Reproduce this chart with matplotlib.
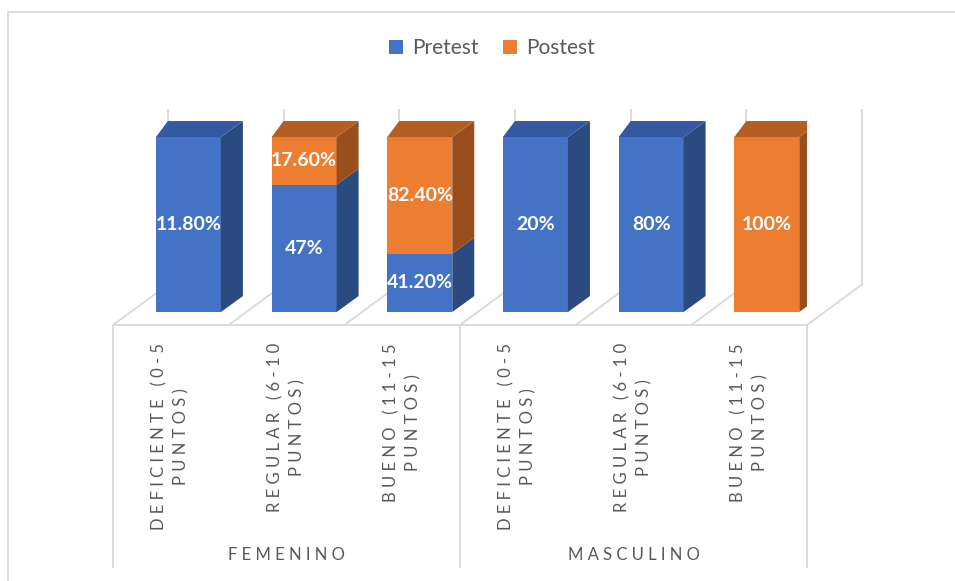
import numpy as np
import matplotlib
matplotlib.use('Agg')
import matplotlib.pyplot as plt
from matplotlib.patches import Rectangle

groups = ['FEMENINO', 'MASCULINO']
levels = ['DEFICIENTE (0-5\nPUNTOS)', 'REGULAR (6-10\nPUNTOS)', 'BUENO (11-15\nPUNTOS)']
pretest = [11.8, 47, 41.2, 20, 80, 0]
postest = [0, 17.6, 82.4, 0, 0, 100]
pre_labels = ['11.80%', '47%', '41.20%', '20%', '80%', '']
post_labels = ['', '17.60%', '82.40%', '', '', '100%']

plt.rcParams['font.family'] = ['Lato', 'DejaVu Sans']

blue, blue_top, blue_side = '#4472C4', '#3459A0', '#2B4A7F'
orange, orange_top, orange_side = '#ED7D31', '#B55E22', '#984E1D'
grid = '#D9D9D9'
txt = '#595959'

# pseudo 3d geometry (pixels -> data units)
px_x = 694 / 6.0
px_y = 1.75
floor_dx, floor_dy = 55 / px_x, 40.5 / px_y
depth0 = 0.32
side_dxr, side_dxl, side_dy = 22 / px_x, 12 / px_x, 16 / px_y
bar_w = 65 / px_x


def spaced(s):
    return '\n'.join('   '.join(' '.join(w) for w in line.split(' ')) for line in s.split('\n'))


pre = np.array(pretest, float)
post = np.array(postest, float)
tot = pre + post
pre_sh = pre / tot * 100
post_sh = post / tot * 100

fig = plt.figure(figsize=(9.55, 5.81), dpi=100)
fig.add_artist(Rectangle((8 / 955, -0.1), 1.2, 1.1 - 12 / 581, transform=fig.transFigure,
                         fill=False, ec=grid, lw=1.3))
ax = fig.add_axes([113 / 955, 1 - 325 / 581, 694 / 955, 125 * px_y / 581])
ax.set_xlim(-0.5, 5.5)
ax.set_ylim(0, 125)
for sp in ax.spines.values():
    sp.set_visible(False)
ax.set_yticks([])

n = len(pretest)
x = np.arange(n)
seps = np.arange(n + 1) - 0.5

# floor and back wall
ax.hlines(0, -0.5, 5.5, color=grid, lw=1.3, clip_on=False, zorder=1)
for s in seps:
    ax.plot([s, s + floor_dx], [0, floor_dy], color=grid, lw=1.3, clip_on=False, zorder=1)
ax.vlines(seps + floor_dx, floor_dy, 100 + floor_dy, color=grid, lw=1.3, clip_on=False, zorder=1)
# category box below
ax.vlines([-0.5, 2.5, 5.5], -139, 0, color=grid, lw=1.3, clip_on=False, zorder=1)

xf = x + depth0 * floor_dx
y0 = depth0 * floor_dy
ax.bar(xf, pre_sh, width=bar_w, bottom=y0, color=blue, label='Pretest', zorder=3)
ax.bar(xf, post_sh, width=bar_w, bottom=y0 + pre_sh, color=orange, label='Postest', zorder=3)

for i in range(n):
    xl, xr = xf[i] - bar_w / 2, xf[i] + bar_w / 2
    segs = [(y0, y0 + pre_sh[i], blue_side, blue_top), (y0 + pre_sh[i], y0 + 100, orange_side, orange_top)]
    for yb, yt, cs, ct in segs:
        if yt - yb <= 0:
            continue
        ax.fill([xr, xr + side_dxr, xr + side_dxr, xr], [yb, yb + side_dy, yt + side_dy, yt],
                color=cs, lw=0, zorder=3)
    top_col = orange_top if post_sh[i] > 0 else blue_top
    yt = y0 + 100
    ax.fill([xl, xr, xr + side_dxr, xl + side_dxl], [yt, yt, yt + side_dy, yt + side_dy],
            color=top_col, lw=0, zorder=3)
    if pre_labels[i]:
        ax.text(xf[i], y0 + pre_sh[i] / 2, pre_labels[i], ha='center', va='center',
                color='white', fontsize=14, fontweight='bold', zorder=4)
    if post_labels[i]:
        ax.text(xf[i], y0 + pre_sh[i] + post_sh[i] / 2, post_labels[i], ha='center', va='center',
                color='white', fontsize=14, fontweight='bold', zorder=4)

ax.set_xticks(x)
ax.set_xticklabels([spaced(l) for l in levels * len(groups)], rotation=90, ha='center', va='top',
                   multialignment='center', linespacing=1.45, fontsize=12, color=txt)
ax.tick_params(axis='x', length=0, pad=13)

for g, name in enumerate(groups):
    ax.text(g * 3 + 1, -131.5, spaced(name), ha='center', va='center', fontsize=12, color=txt)

fig.legend(loc='center', bbox_to_anchor=(492 / 955, 1 - 48 / 581), ncol=2, frameon=False,
           fontsize=15, labelcolor=txt, handlelength=0.65, handleheight=0.65,
           handletextpad=0.45, columnspacing=1.2)

plt.savefig('out.png', dpi=100)
